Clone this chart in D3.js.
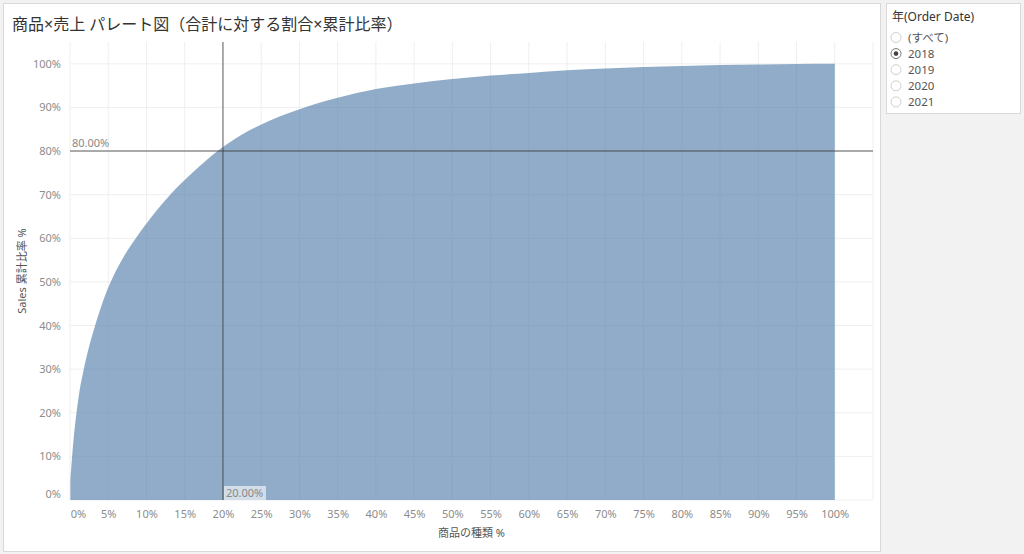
<!DOCTYPE html>
<html>
<head>
<meta charset="utf-8">
<title>商品×売上 パレート図</title>
<script src="https://d3js.org/d3.v7.min.js"></script>
<style>
  body { margin: 0; background: #f2f2f2; }
  svg text { font-family: "Noto Sans", "Noto Sans CJK JP", sans-serif; }
</style>
</head>
<body>
<div id="chart"></div>
<script>
// share of product kinds (%) -> cumulative share of sales (%)
const productPct = [0.05, 0.15, 0.3, 0.5, 0.85, 1.2, 1.8, 2.5, 3.2, 4.1, 5.2, 6.7, 8.6, 10.7, 13.1, 16, 19.3,
  22.5, 26, 30, 35, 40, 45, 50, 55, 60, 65, 70, 75, 80, 85, 90, 95, 100];
const cumSalesPct = [4, 7, 10.5, 14.5, 20, 24.5, 30, 35.2, 39.5, 44.5, 49.5, 54.8, 60, 65, 70, 75, 80,
  83.8, 86.9, 89.6, 92.2, 94.2, 95.5, 96.5, 97.3, 97.9, 98.5, 98.9, 99.25, 99.5, 99.7, 99.85, 99.95, 100];
const xTicks = d3.range(0, 101, 5);
const yTicks = d3.range(0, 101, 10);
const refX = 20, refY = 80;
const years = ["(すべて)", "2018", "2019", "2020", "2021"];
const selectedYear = "2018";

const W = 1024, H = 554;
const plot = {left: 70, right: 873, top: 42, bottom: 500};

const data = productPct.map((x, i) => ({x: x, y: cumSalesPct[i]}));

const svg = d3.select("#chart").append("svg")
    .attr("width", W).attr("height", H);

// worksheet frame
svg.append("rect")
    .attr("x", 3.5).attr("y", 3.5).attr("width", 877).attr("height", 548)
    .attr("fill", "#fff").attr("stroke", "#d9d9d9");

svg.append("text")
    .attr("x", 12).attr("y", 30)
    .attr("font-size", "16px").attr("fill", "#333")
    .text("商品×売上 パレート図（合計に対する割合×累計比率）");

const x = d3.scaleLinear().domain([0, 105]).range([plot.left, plot.right]);
const y = d3.scaleLinear().domain([0, 105]).range([plot.bottom, plot.top]);

// gridlines
svg.append("g").selectAll("line").data(d3.range(0, 106, 5)).enter().append("line")
    .attr("x1", d => x(d)).attr("x2", d => x(d))
    .attr("y1", plot.top).attr("y2", plot.bottom)
    .attr("stroke", "#efefef");
svg.append("g").selectAll("line").data(yTicks).enter().append("line")
    .attr("x1", plot.left).attr("x2", plot.right)
    .attr("y1", d => y(d)).attr("y2", d => y(d))
    .attr("stroke", "#efefef");

// pareto area
const area = d3.area()
    .x(d => x(d.x))
    .y0(y(0))
    .y1(d => y(d.y))
    .curve(d3.curveMonotoneX);

svg.append("path")
    .datum([{x: data[0].x, y: 0}].concat(data))
    .attr("d", area)
    .attr("fill", "#4e79a7")
    .attr("fill-opacity", 0.62);

// axes
const xAxis = d3.axisBottom(x).tickValues(xTicks).tickSize(0).tickFormat(d => d + "%");
const gx = svg.append("g").attr("transform", "translate(0," + plot.bottom + ")").call(xAxis);
gx.select(".domain").remove();
gx.selectAll("text").attr("dy", "1.35em").attr("font-size", "11px").attr("fill", "#8c8c8c")
    .attr("font-family", "\"Noto Sans\", sans-serif");
gx.selectAll("text").filter(d => d === 0).attr("dx", "8px");

const yAxis = d3.axisLeft(y).tickValues(yTicks).tickSize(0).tickFormat(d => d + "%");
const gy = svg.append("g").attr("transform", "translate(" + (plot.left - 6) + ",0)").call(yAxis);
gy.select(".domain").remove();
gy.selectAll("text").attr("font-size", "11px").attr("fill", "#8c8c8c")
    .attr("font-family", "\"Noto Sans\", sans-serif");
gy.selectAll("text").filter(d => d === 0).attr("dy", "-0.2em");

// axis titles
svg.append("text")
    .attr("x", (plot.left + plot.right) / 2).attr("y", 537)
    .attr("text-anchor", "middle").attr("font-size", "11px").attr("fill", "#555")
    .text("商品の種類 %");
svg.append("text")
    .attr("transform", "translate(26," + ((plot.top + plot.bottom) / 2) + ") rotate(-90)")
    .attr("text-anchor", "middle").attr("font-size", "11px").attr("fill", "#555")
    .text("Sales 累計比率 %");

// reference lines
svg.append("line")
    .attr("x1", x(refX)).attr("x2", x(refX)).attr("y1", plot.top).attr("y2", plot.bottom)
    .attr("stroke", "rgb(60,60,60)").attr("stroke-opacity", 0.55).attr("stroke-width", 1.5);
svg.append("line")
    .attr("x1", plot.left).attr("x2", plot.right).attr("y1", y(refY)).attr("y2", y(refY))
    .attr("stroke", "rgb(60,60,60)").attr("stroke-opacity", 0.55).attr("stroke-width", 1.5);

svg.append("text")
    .attr("x", plot.left + 2).attr("y", y(refY) - 4)
    .attr("font-size", "11px").attr("fill", "#888")
    .text(refY.toFixed(2) + "%");

svg.append("rect")
    .attr("x", x(refX) + 1).attr("y", plot.bottom - 14).attr("width", 42).attr("height", 14)
    .attr("fill", "#fff").attr("fill-opacity", 0.6);
svg.append("text")
    .attr("x", x(refX) + 3).attr("y", plot.bottom - 3)
    .attr("font-size", "11px").attr("fill", "#888")
    .text(refX.toFixed(2) + "%");

// year filter panel
const panel = svg.append("g");
panel.append("rect")
    .attr("x", 886.5).attr("y", 3.5).attr("width", 134).attr("height", 110)
    .attr("fill", "#fff").attr("stroke", "#d9d9d9");
panel.append("text")
    .attr("x", 892).attr("y", 21)
    .attr("font-size", "12px").attr("fill", "#333")
    .text("年(Order Date)");

const item = panel.selectAll("g.item").data(years).enter().append("g")
    .attr("class", "item")
    .attr("transform", (d, i) => "translate(896," + (37.5 + i * 16.1) + ")");
item.append("circle")
    .attr("r", 5).attr("fill", "#fff")
    .attr("stroke", d => d === selectedYear ? "#777" : "#d0d0d0");
item.filter(d => d === selectedYear).append("circle")
    .attr("r", 2.3).attr("fill", "#444");
item.append("text")
    .attr("x", 12).attr("y", 4)
    .attr("font-size", "11.5px").attr("fill", "#555")
    .text(d => d);
</script>
</body>
</html>
